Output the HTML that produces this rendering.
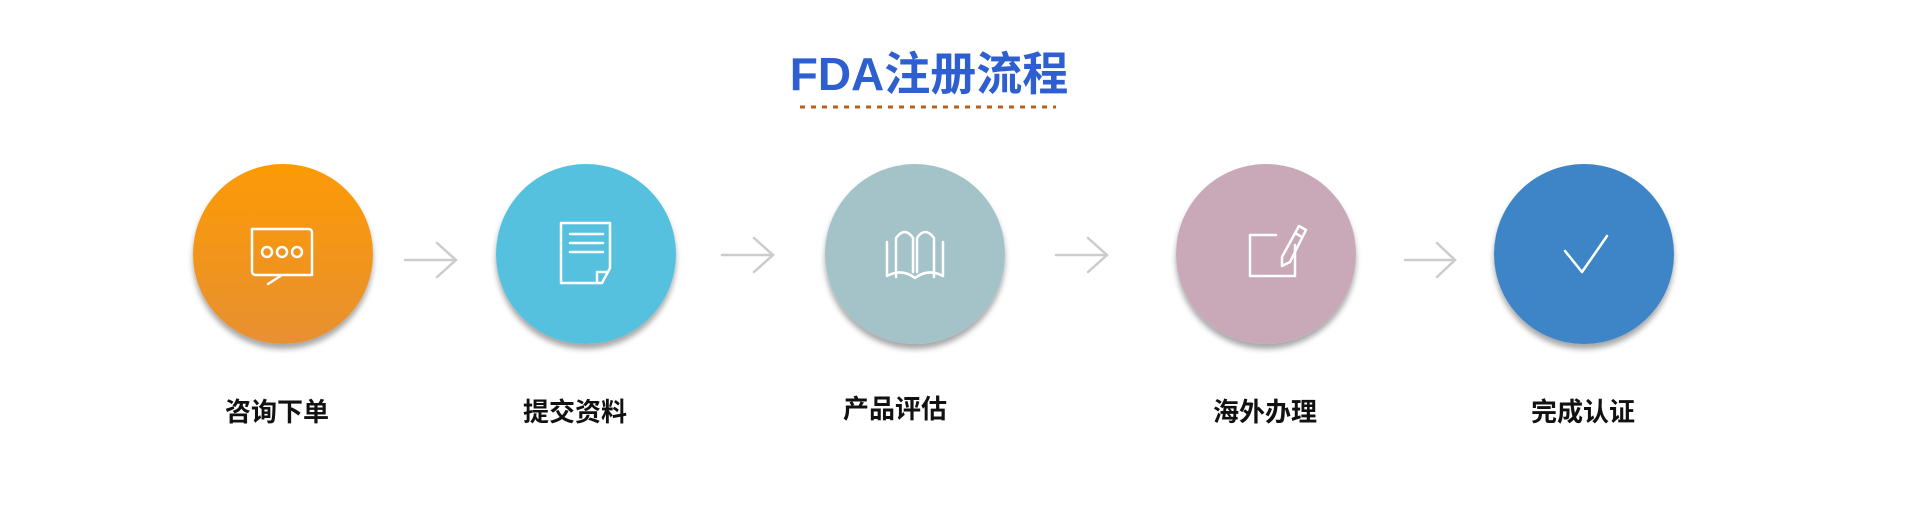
<!DOCTYPE html>
<html><head><meta charset="utf-8"><style>
html,body{margin:0;padding:0;background:#fff;}
body{width:1907px;height:515px;overflow:hidden;position:relative;font-family:"Liberation Sans","Noto Sans CJK SC",sans-serif;}
.t{position:absolute;font-weight:bold;white-space:nowrap;transform:translateX(-50%);}
</style></head><body>
<svg width="1907" height="515" style="position:absolute;left:0;top:0">
<defs>
<linearGradient id="g1" x1="0" y1="0" x2="0" y2="1"><stop offset="0" stop-color="#fd9a04"/><stop offset="1" stop-color="#e79032"/></linearGradient>
<filter id="sh" x="-20%" y="-20%" width="140%" height="150%"><feDropShadow dx="0" dy="5" stdDeviation="3" flood-color="#000" flood-opacity="0.35"/></filter>
</defs>
<line x1="800" y1="107" x2="1056" y2="107" stroke="#b8621c" stroke-width="3" stroke-dasharray="5,6"/>
<circle cx="283" cy="254" r="90" fill="url(#g1)" filter="url(#sh)"/>
<circle cx="586" cy="254" r="90" fill="#55c1de" filter="url(#sh)"/>
<circle cx="915" cy="254" r="90" fill="#a3c3c9" filter="url(#sh)"/>
<circle cx="1266" cy="254" r="90" fill="#c9a9b7" filter="url(#sh)"/>
<circle cx="1584" cy="254" r="90" fill="#3d85c6" filter="url(#sh)"/>
<g stroke="#cccccc" stroke-width="2.5" fill="none" stroke-linecap="round">
<path d="M405 260H456M437 243L456 260L437 277"/>
<path d="M722 255H773M754 238L773 255L754 272"/>
<path d="M1056 255H1107M1088 238L1107 255L1088 272"/>
<path d="M1405 260H1455M1437 243L1455 260L1437 277"/>
</g>
<g stroke="#fff" stroke-width="2.5" fill="none" stroke-linecap="round" stroke-linejoin="round">
<path d="M252 229H308Q312 229 312 233V275H282L268 284M282 275H256Q252 275 252 271V229"/>
<circle cx="267" cy="252" r="5"/><circle cx="282" cy="252" r="5"/><circle cx="297" cy="252" r="5"/>
<path d="M561 223H610V268L602 283H561Z"/>
<path d="M570 234H603M570 243H603M570 252H603M597 283V272H608"/>
<path d="M887 242V276Q902 268 915 278Q928 268 943 276V242"/>
<path d="M896 277V238Q905 226 913 238V272M917 272V238Q925 226 934 238V277"/>
<path d="M1250 235H1276M1250 235V276H1295V245"/>
<path d="M1299 226L1306 230L1290 262L1282 266L1282 257Z M1295 233L1302 237"/>
<path d="M1565 251L1582 272L1607 236"/>
</g>
</svg>
<div class="t" style="left:929px;top:38px;font-size:46px;color:#2e5fd1;">FDA注册流程</div>
<div class="t" style="left:277px;top:392px;font-size:26px;color:#111;">咨询下单</div>
<div class="t" style="left:575px;top:392px;font-size:26px;color:#111;">提交资料</div>
<div class="t" style="left:895px;top:389px;font-size:26px;color:#111;">产品评估</div>
<div class="t" style="left:1265px;top:392px;font-size:26px;color:#111;">海外办理</div>
<div class="t" style="left:1583px;top:392px;font-size:26px;color:#111;">完成认证</div>
</body></html>
